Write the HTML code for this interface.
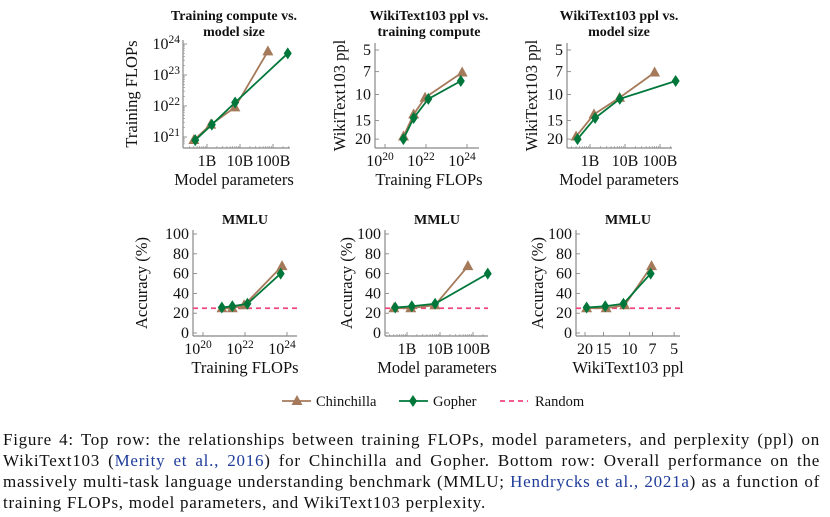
<!DOCTYPE html>
<html><head><meta charset="utf-8">
<style>
html,body{margin:0;padding:0;background:#fff;}
body{width:830px;height:517px;position:relative;overflow:hidden;font-family:"Liberation Serif",serif;}
svg{position:absolute;left:0;top:0;}
.cap{position:absolute;left:3px;width:817px;font-size:17px;letter-spacing:0.75px;line-height:20px;color:#111;text-align:justify;text-align-last:justify;white-space:nowrap;}
.cap a{color:#1f3c9a;text-decoration:none;}
</style></head>
<body>
<svg id="fig" width="830" height="517"></svg>
<div class="cap" style="top:430px">Figure 4: Top row: the relationships between training FLOPs, model parameters, and perplexity (ppl) on</div>
<div class="cap" style="top:451px">WikiText103 (<a>Merity et al., 2016</a>) for Chinchilla and Gopher. Bottom row: Overall performance on the</div>
<div class="cap" style="top:472px">massively multi-task language understanding benchmark (MMLU; <a>Hendrycks et al., 2021a</a>) as a function of</div>
<div class="cap" style="top:493px;text-align:left;text-align-last:left">training FLOPs, model parameters, and WikiText103 perplexity.</div>
<script>
// ---- data ----
const chinParams = [0.4e9, 1.3e9, 7e9, 70e9];
const gophParams = [0.44e9, 1.4e9, 7.1e9, 280e9];
const chinFlops = [8e20, 2.5e21, 9e21, 5.8e23];
const gophFlops = [7.9e20, 2.5e21, 1.3e22, 5e23];
const chinPpl = [19.2, 13.6, 10.5, 7.1];
const gophPpl = [20, 14.4, 10.7, 8.1];
const chinPplMmlu = [19.5, 14.4, 10.8, 7.1];
const gophPplMmlu = [19.5, 14.6, 11, 7.2];
const chinMmlu = [25, 25, 28, 67.5];
const gophMmlu = [25.7, 27, 29.5, 60];
const randomAcc = 25;
const paramTicks = [1e9, 1e10, 1e11];
const paramTickLabels = ["1B", "10B", "100B"];
const flopsTicksTop = [1e21, 1e22, 1e23, 1e24];
const flopsTicksX = [1e20, 1e22, 1e24];
const pplTicks = [5, 7, 10, 15, 20];
const accTicks = [0, 20, 40, 60, 80, 100];

const NS = "http://www.w3.org/2000/svg";
const svg = document.getElementById("fig");
const BROWN = "#a57a5a", GREEN = "#00773a", PINK = "#f0457e", AX = "#888";
const FS = 16;
function mk(tag, attrs, parent) {
  const e = document.createElementNS(NS, tag);
  for (const k in attrs) e.setAttribute(k, attrs[k]);
  (parent || svg).appendChild(e);
  return e;
}
function txt(x, y, s, opts, parent) {
  const t = mk("text", Object.assign({x: x, y: y, "font-family": "Liberation Serif, serif", "font-size": FS, fill: "#111", "text-anchor": "middle"}, opts || {}), parent);
  t.textContent = s;
  return t;
}
function pow10(x, y, e, anchor, parent) {
  const t = mk("text", {x: x, y: y, "font-family": "Liberation Serif, serif", "font-size": FS, fill: "#111", "text-anchor": anchor}, parent);
  const a = document.createElementNS(NS, "tspan"); a.textContent = "10"; t.appendChild(a);
  const b = document.createElementNS(NS, "tspan"); b.setAttribute("dy", "-6"); b.setAttribute("font-size", "11.5"); b.textContent = e; t.appendChild(b);
  return t;
}
const L = Math.log10;

function panel(p) {
  const g = mk("g", {});
  
  
  mk("line", {x1: p.left, y1: p.top, x2: p.left, y2: p.bottom, stroke: AX, "stroke-width": 1.2}, g);
  mk("line", {x1: p.left, y1: p.bottom, x2: p.right, y2: p.bottom, stroke: AX, "stroke-width": 1.2}, g);
  if (p.xMinor) {
    for (let d = p.xMinor[0]; d < p.xMinor[1]; d++) for (let m = 2; m < 10; m++) {
      const x = p.fx(Math.pow(10, d) * m);
      if (x > p.left + 2 && x < p.right) mk("line", {x1: x, y1: p.bottom, x2: x, y2: p.bottom - 2, stroke: AX, "stroke-width": 0.6}, g);
    }
  }
  if (p.yMinor) {
    for (let d = p.yMinor[0]; d < p.yMinor[1]; d++) for (let m = 2; m < 10; m++) {
      const y = p.fy(Math.pow(10, d) * m);
      if (y > p.top && y < p.bottom - 2) mk("line", {x1: p.left, y1: y, x2: p.left + 2, y2: y, stroke: AX, "stroke-width": 0.6}, g);
    }
  }
  p.xt.forEach((v, i) => {
    const x = p.fx(v);
    mk("line", {x1: x, y1: p.bottom, x2: x, y2: p.bottom - 4, stroke: AX, "stroke-width": 0.9}, g);
    if (p.xlPow) pow10(x - 5, p.bottom + 18, p.xl[i], "middle", g);
    else txt(x, p.bottom + 18, p.xl[i], {}, g);
  });
  p.yt.forEach((v, i) => {
    const y = p.fy(v);
    mk("line", {x1: p.left, y1: y, x2: p.left + 4, y2: y, stroke: AX, "stroke-width": 0.9}, g);
    if (p.ylPow) pow10(p.left - 3, y + 5, p.yl[i], "end", g);
    else txt(p.left - 4, y + 5, p.yl[i], {"text-anchor": "end"}, g);
  });
  p.title.forEach((s, i) => txt(p.tx, p.ty + i * 16, s, {"font-weight": "bold", "font-size": 14}, g));
  txt(p.tx, p.bottom + 37, p.xlabel, {"font-size": 16.5}, g);
  txt(0, 0, p.ylabel, {"font-size": 16.5, transform: "translate(" + p.ylx + "," + ((p.top + p.bottom) / 2) + ") rotate(-90)"}, g);
  if (p.random) {
    const y = p.fy(randomAcc);
    const r = mk("line", {x1: p.left, y1: y, x2: p.right, y2: y, stroke: PINK, "stroke-width": 1.8, "stroke-dasharray": "5,4"}, g);
    
    
  }
  series(g, p, p.cx, p.cy, BROWN, "tri", "chinchilla-series");
  series(g, p, p.gx, p.gy, GREEN, "dia", "gopher-series");
}
function series(g, p, xs, ys, col, shape, name) {
  const sg = mk("g", {}, g);
  
  
  const pts = xs.map((v, i) => [p.fx(v), p.fy(ys[i])]);
  mk("polyline", {points: pts.map(q => q.join(",")).join(" "), fill: "none", stroke: col, "stroke-width": 1.8}, sg);
  pts.forEach(q => {
    const [x, y] = q;
    let m;
    if (shape === "tri") m = mk("polygon", {points: `${x},${y-6} ${x-5.5},${y+4} ${x+5.5},${y+4}`, fill: col}, sg);
    else m = mk("polygon", {points: `${x},${y-6} ${x+4},${y} ${x},${y+6} ${x-4},${y}`, fill: col}, sg);
    
    
  });
}

panel({name: "panel-compute-vs-size", left: 183, right: 290, top: 40, bottom: 148,
  fx: v => 207 + (L(v) - 9) * 33, fy: v => 137 - (L(v) - 21) * 31, xMinor: [8, 12], yMinor: [20, 24],
  xt: paramTicks, xl: paramTickLabels, yt: flopsTicksTop, yl: ["21", "22", "23", "24"], ylPow: true,
  title: ["Training compute vs.", "model size"], tx: 234, ty: 20, xlabel: "Model parameters", ylabel: "Training FLOPs", ylx: 137,
  cx: chinParams, cy: chinFlops, gx: gophParams, gy: gophFlops});

const fyPpl = v => 50 + (L(v) - L(5)) * 148;
panel({name: "panel-ppl-vs-compute", left: 375, right: 479, top: 43, bottom: 148,
  fx: v => 385 + (L(v) - 20) * 20.5, fy: fyPpl, xMinor: null,
  xt: flopsTicksX, xl: ["20", "22", "24"], xlPow: true, yt: pplTicks, yl: pplTicks.map(String),
  title: ["WikiText103 ppl vs.", "training compute"], tx: 429, ty: 20, xlabel: "Training FLOPs", ylabel: "WikiText103 ppl", ylx: 345,
  cx: chinFlops, cy: chinPpl, gx: gophFlops, gy: gophPpl});

panel({name: "panel-ppl-vs-size", left: 567, right: 672, top: 43, bottom: 148,
  fx: v => 590 + (L(v) - 9) * 35, fy: fyPpl, xMinor: [8, 12],
  xt: paramTicks, xl: paramTickLabels, yt: pplTicks, yl: pplTicks.map(String),
  title: ["WikiText103 ppl vs.", "model size"], tx: 619, ty: 20, xlabel: "Model parameters", ylabel: "WikiText103 ppl", ylx: 537,
  cx: chinParams, cy: chinPpl, gx: gophParams, gy: gophPpl});

const fyAcc = v => 333 - v * 0.99;
panel({name: "panel-mmlu-vs-compute", left: 193, right: 297, top: 230, bottom: 336,
  fx: v => 203 + (L(v) - 20) * 21, fy: fyAcc, xMinor: null,
  xt: flopsTicksX, xl: ["20", "22", "24"], xlPow: true, yt: accTicks, yl: accTicks.map(String),
  title: ["MMLU"], tx: 245, ty: 224, xlabel: "Training FLOPs", ylabel: "Accuracy (%)", ylx: 147, random: true,
  cx: chinFlops, cy: chinMmlu, gx: gophFlops, gy: gophMmlu});

panel({name: "panel-mmlu-vs-size", left: 385, right: 488, top: 230, bottom: 336,
  fx: v => 407 + (L(v) - 9) * 33, fy: fyAcc, xMinor: [8, 12],
  xt: paramTicks, xl: paramTickLabels, yt: accTicks, yl: accTicks.map(String),
  title: ["MMLU"], tx: 437, ty: 224, xlabel: "Model parameters", ylabel: "Accuracy (%)", ylx: 352, random: true,
  cx: chinParams, cy: chinMmlu, gx: gophParams, gy: gophMmlu});

panel({name: "panel-mmlu-vs-ppl", left: 576, right: 680, top: 230, bottom: 336,
  fx: v => 585 + (L(20) - L(v)) * 148, fy: fyAcc, xMinor: null,
  xt: [20, 15, 10, 7, 5], xl: ["20", "15", "10", "7", "5"], yt: accTicks, yl: accTicks.map(String),
  title: ["MMLU"], tx: 628, ty: 224, xlabel: "WikiText103 ppl", ylabel: "Accuracy (%)", ylx: 543, random: true,
  cx: chinPplMmlu, cy: chinMmlu, gx: gophPplMmlu, gy: gophMmlu});

const lg = mk("g", {});


const ly = 401;
mk("line", {x1: 282, y1: ly, x2: 311, y2: ly, stroke: BROWN, "stroke-width": 1.8}, lg);
mk("polygon", {points: `297,${ly-6} 291.5,${ly+4} 302.5,${ly+4}`, fill: BROWN}, lg);
txt(316, ly + 5, "Chinchilla", {"text-anchor": "start", "font-size": 14.5}, lg);
mk("line", {x1: 399, y1: ly, x2: 428, y2: ly, stroke: GREEN, "stroke-width": 1.8}, lg);
mk("polygon", {points: `413,${ly-6} 417,${ly} 413,${ly+6} 409,${ly}`, fill: GREEN}, lg);
txt(433, ly + 5, "Gopher", {"text-anchor": "start", "font-size": 14.5}, lg);
mk("line", {x1: 500, y1: ly, x2: 528, y2: ly, stroke: PINK, "stroke-width": 1.8, "stroke-dasharray": "5,4"}, lg);
txt(535, ly + 5, "Random", {"text-anchor": "start", "font-size": 14.5}, lg);
</script>
</body></html>
